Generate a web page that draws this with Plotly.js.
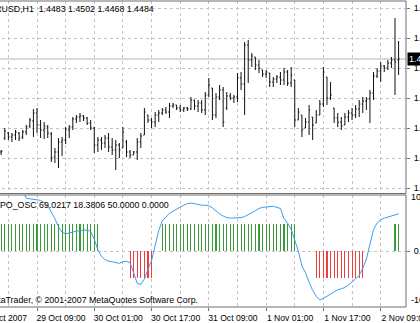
<!DOCTYPE html>
<html>
<head>
<meta charset="utf-8">
<script src="https://cdn.plot.ly/plotly-3.0.1.min.js"></script>
<style>
html,body{margin:0;padding:0;background:#fff;overflow:hidden;width:420px;height:323px;}
#chart{position:absolute;left:-40px;top:0;width:500px;height:323px;}
</style>
</head>
<body>
<div id="chart"></div>
<script>
// ---- DATA (EURUSD, H1) ----
const symbol = 'EURUSD,H1';
const openP = [1.4391,1.4405,1.4410,1.4406,1.4408,1.4410,1.4406,1.4411,1.4417,1.4422,
1.4430,1.4418,1.4413,1.4416,1.4409,1.4386,1.4391,1.4401,1.4403,1.4413,
1.4416,1.4424,1.4426,1.4427,1.4425,1.4420,1.4415,1.4398,1.4403,1.4400,
1.4405,1.4396,1.4393,1.4398,1.4395,1.4401,1.4391,1.4388,1.4391,1.4401,
1.4408,1.4428,1.4423,1.4421,1.4428,1.4430,1.4433,1.4431,1.4437,1.4438,
1.4435,1.4433,1.4435,1.4434,1.4443,1.4437,1.4440,1.4433,1.4448,1.4455,
1.4428,1.4446,1.4453,1.4435,1.4447,1.4445,1.4446,1.4465,1.4459,1.4498,
1.4483,1.4486,1.4478,1.4473,1.4469,1.4470,1.4461,1.4464,1.4466,1.4463,
1.4471,1.4460,1.4463,1.4423,1.4428,1.4415,1.4421,1.4426,1.4420,1.4428,
1.4439,1.4466,1.4445,1.4435,1.4425,1.4421,1.4418,1.4426,1.4430,1.4428,
1.4434,1.4439,1.4442,1.4444,1.4450,1.4467,1.4472,1.4477,1.4475,1.4480,
1.4483,1.4483];
const highP = [1.4393,1.4415,1.4411,1.4410,1.4413,1.4411,1.4413,1.4418,1.4425,1.4434,
1.4435,1.4423,1.4421,1.4418,1.4411,1.4395,1.4405,1.4406,1.4416,1.4418,
1.4426,1.4428,1.4430,1.4428,1.4426,1.4423,1.4416,1.4406,1.4406,1.4408,
1.4410,1.4405,1.4403,1.4400,1.4416,1.4403,1.4393,1.4392,1.4405,1.4410,
1.4435,1.4428,1.4425,1.4431,1.4433,1.4435,1.4436,1.4440,1.4440,1.4438,
1.4438,1.4436,1.4436,1.4446,1.4443,1.4443,1.4443,1.4451,1.4465,1.4455,
1.4450,1.4458,1.4456,1.4451,1.4450,1.4448,1.4470,1.4471,1.4501,1.4503,
1.4490,1.4486,1.4483,1.4473,1.4473,1.4470,1.4466,1.4468,1.4471,1.4475,
1.4473,1.4476,1.4463,1.4435,1.4428,1.4425,1.4438,1.4426,1.4433,1.4443,
1.4476,1.4466,1.4461,1.4435,1.4430,1.4426,1.4430,1.4433,1.4435,1.4438,
1.4443,1.4446,1.4446,1.4453,1.4471,1.4475,1.4481,1.4478,1.4483,1.4486,
1.4525,1.4502];
const lowP = [1.4388,1.4403,1.4403,1.4401,1.4403,1.4402,1.4404,1.4408,1.4415,1.4406,
1.4410,1.4405,1.4404,1.4405,1.4381,1.4380,1.4375,1.4387,1.4399,1.4405,
1.4413,1.4420,1.4421,1.4422,1.4418,1.4413,1.4390,1.4391,1.4393,1.4395,
1.4391,1.4388,1.4373,1.4385,1.4395,1.4386,1.4385,1.4388,1.4383,1.4395,
1.4408,1.4420,1.4415,1.4416,1.4421,1.4428,1.4429,1.4425,1.4435,1.4433,
1.4431,1.4431,1.4432,1.4433,1.4433,1.4431,1.4430,1.4428,1.4446,1.4423,
1.4425,1.4443,1.4416,1.4433,1.4443,1.4440,1.4441,1.4453,1.4428,1.4460,
1.4476,1.4473,1.4470,1.4466,1.4465,1.4456,1.4456,1.4460,1.4458,1.4458,
1.4457,1.4456,1.4416,1.4423,1.4406,1.4415,1.4408,1.4403,1.4420,1.4428,
1.4436,1.4438,1.4443,1.4420,1.4416,1.4413,1.4418,1.4421,1.4423,1.4425,
1.4426,1.4430,1.4433,1.4420,1.4443,1.4465,1.4461,1.4471,1.4473,1.4475,
1.4448,1.4468];
const closeP = [1.4392,1.4412,1.4406,1.4408,1.4411,1.4405,1.4411,1.4416,1.4423,1.4430,
1.4418,1.4413,1.4417,1.4410,1.4385,1.4391,1.4401,1.4403,1.4414,1.4416,
1.4424,1.4426,1.4427,1.4425,1.4420,1.4415,1.4398,1.4403,1.4400,1.4405,
1.4396,1.4393,1.4398,1.4393,1.4411,1.4391,1.4388,1.4391,1.4401,1.4407,
1.4431,1.4423,1.4421,1.4428,1.4430,1.4433,1.4431,1.4437,1.4438,1.4435,
1.4433,1.4435,1.4434,1.4443,1.4437,1.4440,1.4433,1.4448,1.4458,1.4428,
1.4446,1.4453,1.4421,1.4447,1.4445,1.4446,1.4465,1.4459,1.4498,1.4483,
1.4487,1.4478,1.4475,1.4469,1.4471,1.4461,1.4464,1.4466,1.4463,1.4471,
1.4460,1.4468,1.4423,1.4431,1.4413,1.4421,1.4433,1.4418,1.4428,1.4439,
1.4471,1.4445,1.4448,1.4425,1.4421,1.4417,1.4426,1.4430,1.4428,1.4434,
1.4439,1.4442,1.4444,1.4450,1.4467,1.4472,1.4477,1.4475,1.4480,1.4483,
1.4481,1.4484];
// PO_OSC indicator: oscillator line and histogram
const oscLine = [130,128,125,122,120,118,112,98,97,96,
96,94,90,84,72,60,45,35,32,33,
35,37,38,38,39,36,22,2,-10,-16,
-19,-20,-22,-23,-20,-19,-22,-40,-60,-62,
-52,-34,-18,10,38,56,64,70,74,78,
81,85,88,89,88,86,85,85,84,80,
74,69,65,62,61,61,61,62,64,67,
71,75,79,81,82,83,83,81,79,60,
52,40,22,0,-28,-40,-58,-73,-84,-91,
-88,-84,-80,-76,-72,-70,-68,-63,-58,-52,
-45,-32,-15,15,40,52,58,61,63,65,
67,69.0217];
const oscHist = [50,50,50,50,50,50,50,50,50,50,
50,50,50,50,50,50,50,50,50,50,
50,50,50,50,50,50,50,50,0,0,
0,0,0,0,0,0,-50,-50,-50,-50,
-50,-50,-50,0,0,50,50,50,50,50,
50,50,50,50,50,50,50,50,50,50,
50,50,50,50,50,50,50,50,50,50,
50,50,50,50,50,50,50,50,50,50,
50,50,50,0,0,0,0,0,-50,-50,
-50,-50,-50,-50,-50,-50,-50,-50,-50,-50,
-50,-50,0,0,0,0,0,0,0,0,
50,50];
const oscSignalLast = 18.3806;
const oscName = 'PO_OSC';
// axis labels
const timeTickIdx = [-6,10,26,42,58,74,90,106];
const timeTickText = ['28 Oct 2007','29 Oct 09:00','30 Oct 01:00','30 Oct 17:00','31 Oct 09:00','1 Nov 01:00','1 Nov 17:00','2 Nov 09:00'];
const timeGridIdx = [-14,2,18,34,50,66,82,98];
const priceTicks = [1.4355,1.4385,1.4415,1.4445,1.4475,1.4505,1.4535];
const oscTop = 104.0, oscBottom = -104.0;
const copyright = 'MetaTrader, \u00a9 2001-2007 MetaQuotes Software Corp.';

// ---- LAYOUT HELPERS ----
const W = 500, H = 323, L = 0, R = 54, T = 1, B = 16, OFFX = -40;
const plotW = W - L - R, plotH = H - T - B;
const px = wx => (wx - OFFX - L) / plotW;
const py = wy => (H - B - wy) / plotH;

const idx = closeP.map((_, i) => i);
const n = closeP.length;
const last = n - 1;
const f4 = v => v.toFixed(4);
const FONT = 'Liberation Sans, Arial, sans-serif';
const gridCol = '#c4c4c4';
const frameCol = '#6e6e6e';
const TXT = {family:FONT, size:8.8, color:'#000'};
const AX = {family:FONT, size:9, color:'#000'};

const traces = [
  {type:'ohlc', x: idx, open: openP, high: highP, low: lowP, close: closeP,
   xaxis:'x', yaxis:'y', tickwidth:0.32, hoverinfo:'skip',
   increasing:{line:{color:'#111', width:1}}, decreasing:{line:{color:'#111', width:1}}},
  {type:'bar', x: idx, y: oscHist, xaxis:'x', yaxis:'y2', width:0.3,
   marker:{color: oscHist.map(v => v >= 0 ? '#3a9a3a' : '#f03c3c'), line:{width:0}}, hoverinfo:'skip'},
  {type:'scatter', mode:'lines', x: idx, y: oscLine, xaxis:'x', yaxis:'y2',
   line:{color:'#3d9bf0', width:1}, hoverinfo:'skip'}
];

const layout = {
  width: W, height: H,
  margin: {l:L, r:R, t:T, b:B, pad:0},
  paper_bgcolor:'#fff', plot_bgcolor:'#fff',
  showlegend:false, bargap:0,
  font:{family:FONT, size:8.5, color:'#000'},
  xaxis:{range:[(-40 - 1.2) / 3.58, (406 - 1.2) / 3.58], anchor:'y2',
    tickmode:'array', tickvals: timeTickIdx, ticktext: timeTickText,
    ticks:'outside', ticklen:3, tickcolor:frameCol, ticklabelshift:24, ticklabelstandoff:0,
    tickfont:{family:FONT, size:8.6, color:'#000'},
    showgrid:true, gridcolor:gridCol, griddash:'3px,3px', gridwidth:1,
    minor:{tickmode:'array', tickvals: timeGridIdx, showgrid:true, gridcolor:gridCol, griddash:'3px,3px', ticks:''},
    zeroline:false, showline:false, rangeslider:{visible:false}, fixedrange:true},
  yaxis:{domain:[py(193.5), 1], range:[1.4484 - (193.5 - 59) / 10000, 1.4484 + (59 - 1) / 10000],
    side:'right', anchor:'x', tickmode:'array', tickvals: priceTicks, ticktext: priceTicks.map(f4),
    ticks:'outside', ticklen:3, tickcolor:frameCol, ticklabelstandoff:2, tickfont:AX,
    showgrid:true, gridcolor:gridCol, griddash:'3px,3px', gridwidth:1, zeroline:false, showline:false, fixedrange:true},
  yaxis2:{domain:[0, py(195)], range:[oscBottom, oscTop], side:'right', anchor:'x',
    tickmode:'array', tickvals:[0], ticktext:['0.0000'], ticks:'outside', ticklen:3, tickcolor:frameCol,
    ticklabelstandoff:2, tickfont:AX,
    showgrid:true, gridcolor:gridCol, griddash:'3px,3px', zeroline:false, showline:false, fixedrange:true},
  shapes:[
    {type:'line', xref:'x domain', x0:0, x1:1, yref:'y', y0:closeP[last], y1:closeP[last], line:{color:'#b4b4b4', width:1}, layer:'below'},
    {type:'rect', xref:'x domain', x0:0, x1:1, yref:'y domain', y0:0, y1:1, line:{color:frameCol, width:1}},
    {type:'rect', xref:'x domain', x0:0, x1:1, yref:'y2 domain', y0:0, y1:1, line:{color:frameCol, width:1}}
  ],
  annotations:[
    {xref:'paper', yref:'paper', x:px(-19), y:py(9), xanchor:'left', yanchor:'middle', showarrow:false, font:TXT,
     text: symbol + '\u00a0\u00a0' + [openP[last], highP[last], lowP[last], closeP[last]].map(f4).join(' ')},
    {xref:'paper', yref:'paper', x:px(-2), y:py(205), xanchor:'left', yanchor:'middle', showarrow:false, font:TXT,
     text: oscName + ' ' + f4(oscLine[last]) + ' ' + f4(oscSignalLast) + ' ' + f4(Math.max(oscHist[last],0)) + ' ' + f4(Math.max(-oscHist[last],0))},
    {xref:'paper', yref:'paper', x:px(-16.5), y:py(300), xanchor:'left', yanchor:'middle', showarrow:false, font:TXT, text: copyright},
    {xref:'paper', yref:'y', x:1, y:closeP[last], xanchor:'left', yanchor:'middle', showarrow:false, xshift:1,
     text: f4(closeP[last]), bgcolor:'#000', font:{color:'#fff', family:FONT, size:9}, borderpad:1},
    {xref:'paper', yref:'paper', x:1, y:py(197.5), xanchor:'left', yanchor:'middle', showarrow:false, xshift:3, font:AX, text: f4(oscTop)},
    {xref:'paper', yref:'paper', x:1, y:py(300), xanchor:'left', yanchor:'middle', showarrow:false, xshift:3, font:AX, text: f4(oscBottom)}
  ]
};

Plotly.newPlot('chart', traces, layout, {staticPlot:true, displayModeBar:false});
</script>
</body>
</html>
